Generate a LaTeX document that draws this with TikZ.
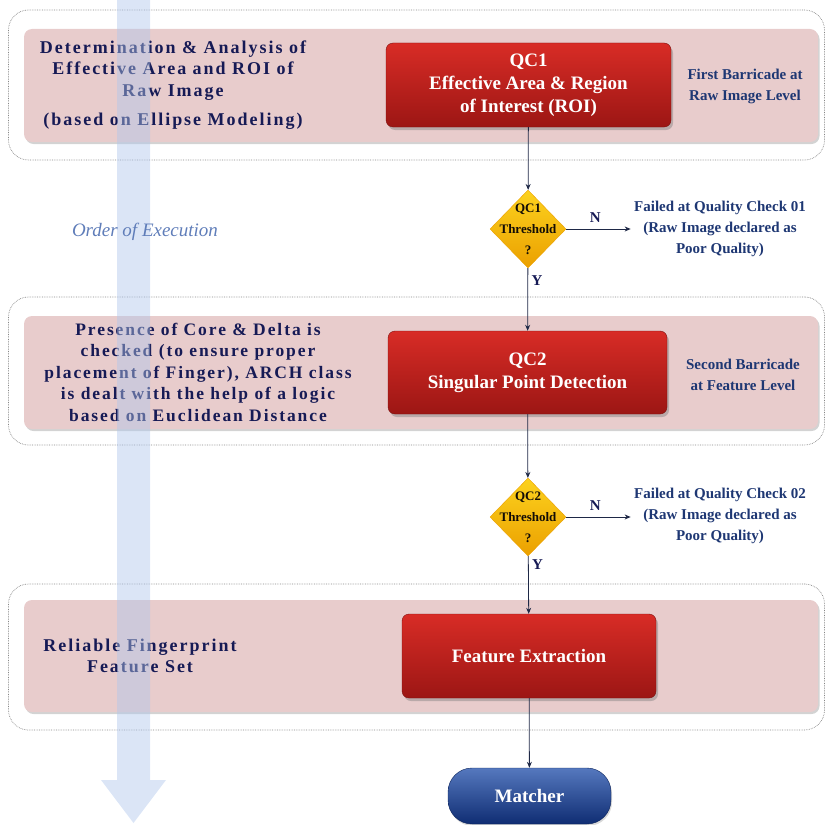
\documentclass[tikz,border=0pt]{standalone}
\usepackage{fontspec}
\setmainfont{Liberation Serif}
\newfontfamily\spacedfont[LetterSpace=11]{Liberation Serif}
\usetikzlibrary{arrows.meta,positioning,shapes.geometric,shadows}
\usepackage{xcolor}

\definecolor{navy}{RGB}{22,26,85}
\definecolor{barblue}{RGB}{30,55,115}
\definecolor{bandpink}{RGB}{232,204,204}
\definecolor{redtop}{RGB}{216,44,38}
\definecolor{redbot}{RGB}{156,22,20}
\definecolor{goldtop}{RGB}{252,210,30}
\definecolor{goldbot}{RGB}{235,160,0}
\definecolor{bluetop}{RGB}{85,120,190}
\definecolor{bluebot}{RGB}{15,45,115}
\definecolor{flowblue}{RGB}{175,198,236}
\definecolor{linecol}{RGB}{30,40,70}
\definecolor{scriptblue}{RGB}{95,125,185}

\begin{document}
\begin{tikzpicture}[x=1pt,y=-1pt,>={Stealth[length=6pt,width=5pt]},
  stage/.style={draw=gray!95, densely dotted, line width=0.7pt, rounded corners=20pt, inner sep=0pt},
  band/.style={fill=bandpink, rounded corners=8pt, inner sep=0pt,
    drop shadow={opacity=0.35, shadow xshift=1.5pt, shadow yshift=-2pt}},
  qcbox/.style={rounded corners=7pt, top color=redtop, bottom color=redbot,
    draw=redbot!80!black, text=white, align=center, inner sep=0pt,
    font=\bfseries\fontsize{19}{23}\selectfont,
    drop shadow={opacity=0.45, shadow xshift=2pt, shadow yshift=-3pt}},
  gate/.style={diamond, top color=goldtop, bottom color=goldbot, draw=goldbot,
    minimum width=76pt, minimum height=78pt, inner sep=0pt},
  gatetext/.style={align=center, text=black!90!brown,
    font=\bfseries\fontsize{13}{21}\selectfont},
  note/.style={text=navy, align=center, font=\spacedfont\bfseries\fontsize{18}{21.5}\selectfont},
  barr/.style={text=barblue, align=center, font=\bfseries\fontsize{15}{21}\selectfont},
  flow/.style={->, draw=linecol, line width=0.8pt},
  lbl/.style={text=navy, font=\bfseries\fontsize{15}{18}\selectfont}]

  \useasboundingbox (0,0) rectangle (826,824);

  % stage frames and bands
  \node (stage1) [stage, minimum width=816pt, minimum height=150pt] at (416.5,85) {};
  \node (stage2) [stage, minimum width=816pt, minimum height=148pt] at (416.5,371) {};
  \node (stage3) [stage, minimum width=816pt, minimum height=146pt] at (416.5,657) {};
  \node (band1) [band, minimum width=794pt, minimum height=113pt] at (421,85.5) {};
  \node (band2) [band, minimum width=794pt, minimum height=113pt] at (421,372.5) {};
  \node (band3) [band, minimum width=794pt, minimum height=112pt] at (421,656) {};

  % main flow
  \node (qc1) [qcbox, minimum width=285pt, minimum height=84pt] at (528.5,85)
    {QC1\\Effective Area \& Region\\of Interest (ROI)};
  \node (d1) [gate, label={[gatetext]center:QC1\\Threshold\\?}] at (528,229) {};
  \node (qc2) [qcbox, minimum width=279pt, minimum height=83pt] at (527.5,372.5)
    {QC2\\Singular Point Detection};
  \node (d2) [gate, label={[gatetext]center:QC2\\Threshold\\?}] at (528,517) {};
  \node (fe) [qcbox, minimum width=254pt, minimum height=84pt] at (529,656)
    {Feature Extraction};
  \node (match) [rounded corners=24pt, top color=bluetop, bottom color=bluebot,
    draw=bluebot!80!black, text=white, font=\bfseries\fontsize{19}{23}\selectfont,
    minimum width=163pt, minimum height=56pt, inner sep=0pt,
    drop shadow={opacity=0.3, shadow xshift=1pt, shadow yshift=-2pt}] at (529.5,796) {Matcher};

  % side texts
  \node (f1) [barr] at (720,229) {Failed at Quality Check 01\\(Raw Image declared as\\Poor Quality)};
  \node (f2) [barr] at (720,516) {Failed at Quality Check 02\\(Raw Image declared as\\Poor Quality)};
  \node (b1) [barr] at (745,86) {First Barricade at\\Raw Image Level};
  \node (b2) [barr] at (743,375) {Second Barricade\\at Feature Level};
  \node (n1) [note] at (173,85) {Determination \& Analysis of\\Effective Area and ROI of\\Raw Image\\[8pt](based on Ellipse Modeling)};
  \node (n2) [note, font=\spacedfont\bfseries\fontsize{17.5}{21.5}\selectfont] at (198,372) {Presence of Core \& Delta is\\checked (to ensure proper\\placement of Finger), ARCH class\\is dealt with the help of a logic\\based on Euclidean Distance};
  \node (n3) [note] at (140,656) {Reliable Fingerprint\\Feature Set};

  % connectors
  \draw[flow] (d1.east) -- node[lbl, above, pos=0.45, yshift=3pt] {N} (d1.east -| f1.west);
  \draw[flow] (qc1) -- (d1);
  \draw[flow] (d1) -- node[lbl, right, pos=0.2] {Y} (qc2);
  \draw[flow] (qc2) -- (d2);
  \draw[flow] (d2.east) -- node[lbl, above, pos=0.45, yshift=3pt] {N} (d2.east -| f2.west);
  \draw[flow] (d2) -- node[lbl, right, pos=0.15] {Y} (fe);
  \draw[flow] (fe) -- (match);

  % order of execution arrow
  \fill[flowblue, opacity=0.45] (117,0) -- (150,0) -- (150,780) -- (166,780)
    -- (133.5,823) -- (101,780) -- (117,780) -- cycle;
  \node (order) [text=scriptblue, font=\itshape\fontsize{19}{22}\selectfont] at (145,232) {Order of Execution};
\end{tikzpicture}
\end{document}
